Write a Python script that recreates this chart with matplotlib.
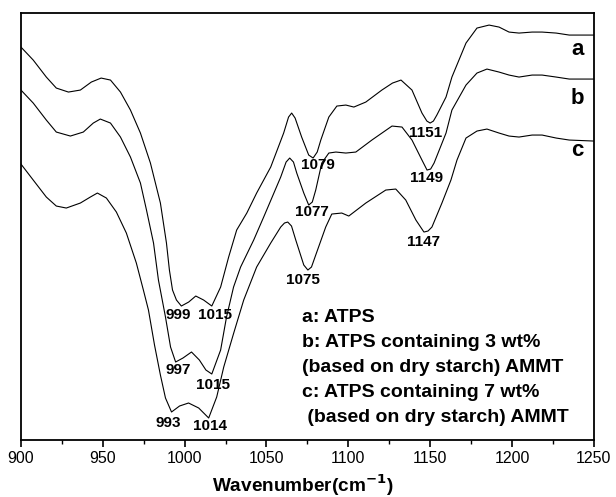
import matplotlib
matplotlib.use('Agg')
import matplotlib.pyplot as plt
from matplotlib.ticker import MultipleLocator

plt.rcParams['font.family'] = ['Liberation Sans', 'DejaVu Sans']

# curve a: ATPS (wavenumber, transmittance in arbitrary units)
wn_a = [900, 907.5, 915.5, 921.6, 929, 936.3, 943, 949, 954.7, 960.8, 966.9, 973, 979.1, 985.2,
        988.9, 990.7, 992.6, 995, 998, 1002.5, 1006.8, 1011.6, 1016.6, 1022, 1026.9, 1031.8, 1038,
        1044, 1052.6, 1060.5, 1063.5, 1065.4, 1067.5, 1071.5, 1075.8, 1078.5, 1081, 1083.2, 1088.1,
        1093, 1098.5, 1103.4, 1110.7, 1120.5, 1127, 1132.2, 1138.9, 1145, 1148, 1150, 1152,
        1154.1, 1159.7, 1163.3, 1171.9, 1178.6, 1186, 1192.1, 1198.2, 1204.3, 1212.3, 1218.4,
        1227, 1235, 1250]
t_a = [393, 380, 363, 352, 348, 350, 358, 362, 360, 348, 330, 307, 277, 237,
       197, 170, 150, 140, 134, 138, 144, 140, 134, 153, 183, 210, 227,
       247, 273, 307, 323, 327, 322, 303, 285, 282, 288, 300, 323,
       334, 335, 333, 338, 350, 357, 360, 350, 327, 319, 317, 319,
       325, 343, 363, 397, 412, 415, 413, 408, 407, 408, 408,
       407, 405, 405]

# curve b: ATPS + 3 wt% AMMT
wn_b = [900, 907.5, 915.5, 921.6, 930.2, 938.1, 944.2, 948.5, 954.7, 960.8, 966.9, 973, 976.7,
        981, 984, 988.3, 991.4, 994.5, 999, 1004.2, 1009, 1013, 1016.6, 1022, 1025.6, 1029.9,
        1034.2, 1042.2, 1048.3, 1058.7, 1062, 1064.2, 1066.5, 1068.5, 1072.8, 1075.8, 1078,
        1080.1, 1083.8, 1088.1, 1092.4, 1098.5, 1104.6, 1114.4, 1126.7, 1132.8, 1138.9, 1145,
        1148.1, 1150.3, 1152.4, 1159.7, 1163.3, 1171.9, 1178.6, 1184.7, 1192.1, 1198.2, 1204.3,
        1212.3, 1218.4, 1227, 1235, 1250]
t_b = [350, 337, 320, 308, 304, 308, 317, 321, 317, 303, 283, 257, 230,
       197, 160, 123, 93, 78, 82, 88, 80, 70, 66, 90, 123, 153,
       173, 200, 223, 263, 278, 282, 278, 267, 247, 235, 238,
       250, 277, 287, 288, 287, 288, 300, 314, 313, 300, 280,
       270, 271, 277, 307, 330, 355, 367, 371, 368, 365, 363,
       365, 365, 363, 361, 361]

# curve c: ATPS + 7 wt% AMMT
wn_c = [900, 907.5, 915.5, 921.6, 927.7, 936.3, 942.4, 946.7, 952.2, 958.3, 964.4, 970.5, 974.8,
        977.9, 981.6, 985.2, 988.3, 992, 996.9, 1002.4, 1008.6, 1014.7, 1019.6, 1023.9, 1030,
        1036.1, 1044, 1052.6, 1058.7, 1061, 1063, 1065.3, 1067.9, 1072.8, 1075.3, 1077.5, 1080.1,
        1086.2, 1089.9, 1096, 1100.3, 1110.7, 1122.9, 1129, 1135.1, 1141.3, 1146.2, 1148.7,
        1151.1, 1157.2, 1162.7, 1166.4, 1171.9, 1178.6, 1184.7, 1192.1, 1198.2, 1204.3, 1212.3,
        1218.4, 1227, 1235, 1250]
t_c = [276, 260, 243, 234, 232, 237, 243, 247, 242, 228, 207, 177, 150,
       130, 95, 65, 42, 28, 34, 37, 32, 22, 43, 73, 107,
       140, 173, 197, 213, 217, 218, 214, 200, 175, 170, 173, 185,
       213, 226, 227, 224, 237, 250, 251, 240, 220, 208, 209,
       213, 237, 260, 280, 302, 309, 311, 307, 304, 303, 305,
       305, 302, 300, 299]

# peak annotations
peak_text = ['999', '1015', '997', '1015', '993', '1014',
             '1079', '1077', '1075', '1151', '1149', '1147']
peak_x = [996.3, 1018.7, 996.3, 1017.5, 990.2, 1015.7,
          1081.3, 1078, 1072.5, 1147.1, 1148, 1146.2]
peak_y = [125, 125, 70, 55, 17, 14,
          275, 228, 160, 307, 262, 198]

curve_names = ['a', 'b', 'c']
curve_name_y = [391, 342, 290]

legend_lines = ['a: ATPS',
                'b: ATPS containing 3 wt%',
                '(based on dry starch) AMMT',
                'c: ATPS containing 7 wt%',
                ' (based on dry starch) AMMT']

fig = plt.figure(figsize=(6.16, 4.97), dpi=100)
ax = fig.add_axes([0.034, 0.1147, 0.930, 0.859])

for wn, t in [(wn_a, t_a), (wn_b, t_b), (wn_c, t_c)]:
    ax.plot(wn, t, color='black', linewidth=0.8, solid_joinstyle='round')

for s, x, y in zip(peak_text, peak_x, peak_y):
    ax.text(x, y, s, ha='center', va='center', fontsize=11, fontweight='bold')

for s, y in zip(curve_names, curve_name_y):
    ax.text(1240, y, s, ha='center', va='center', fontsize=16, fontweight='bold')

for i, s in enumerate(legend_lines):
    ax.text(0.490, 0.288 - i * 0.059, s, transform=ax.transAxes, ha='left', va='center',
            fontsize=14, fontweight='bold')

ax.set_xlim(900, 1250)
ax.set_ylim(0, 427)
ax.xaxis.set_major_locator(MultipleLocator(50))
ax.xaxis.set_minor_locator(MultipleLocator(25))
ax.tick_params(axis='x', which='major', direction='out', length=5, width=1.2, labelsize=11.5, pad=3)
ax.tick_params(axis='x', which='minor', direction='out', length=3, width=1.0)
ax.set_yticks([])
for sp in ax.spines.values():
    sp.set_linewidth(1.3)
ax.set_xlabel('Wavenumber(cm$^{\\mathbf{-1}}$)', fontsize=13.7, fontweight='bold', labelpad=2)
ax.xaxis.set_label_coords(0.492, -0.075)

fig.savefig('out.png', dpi=100)
